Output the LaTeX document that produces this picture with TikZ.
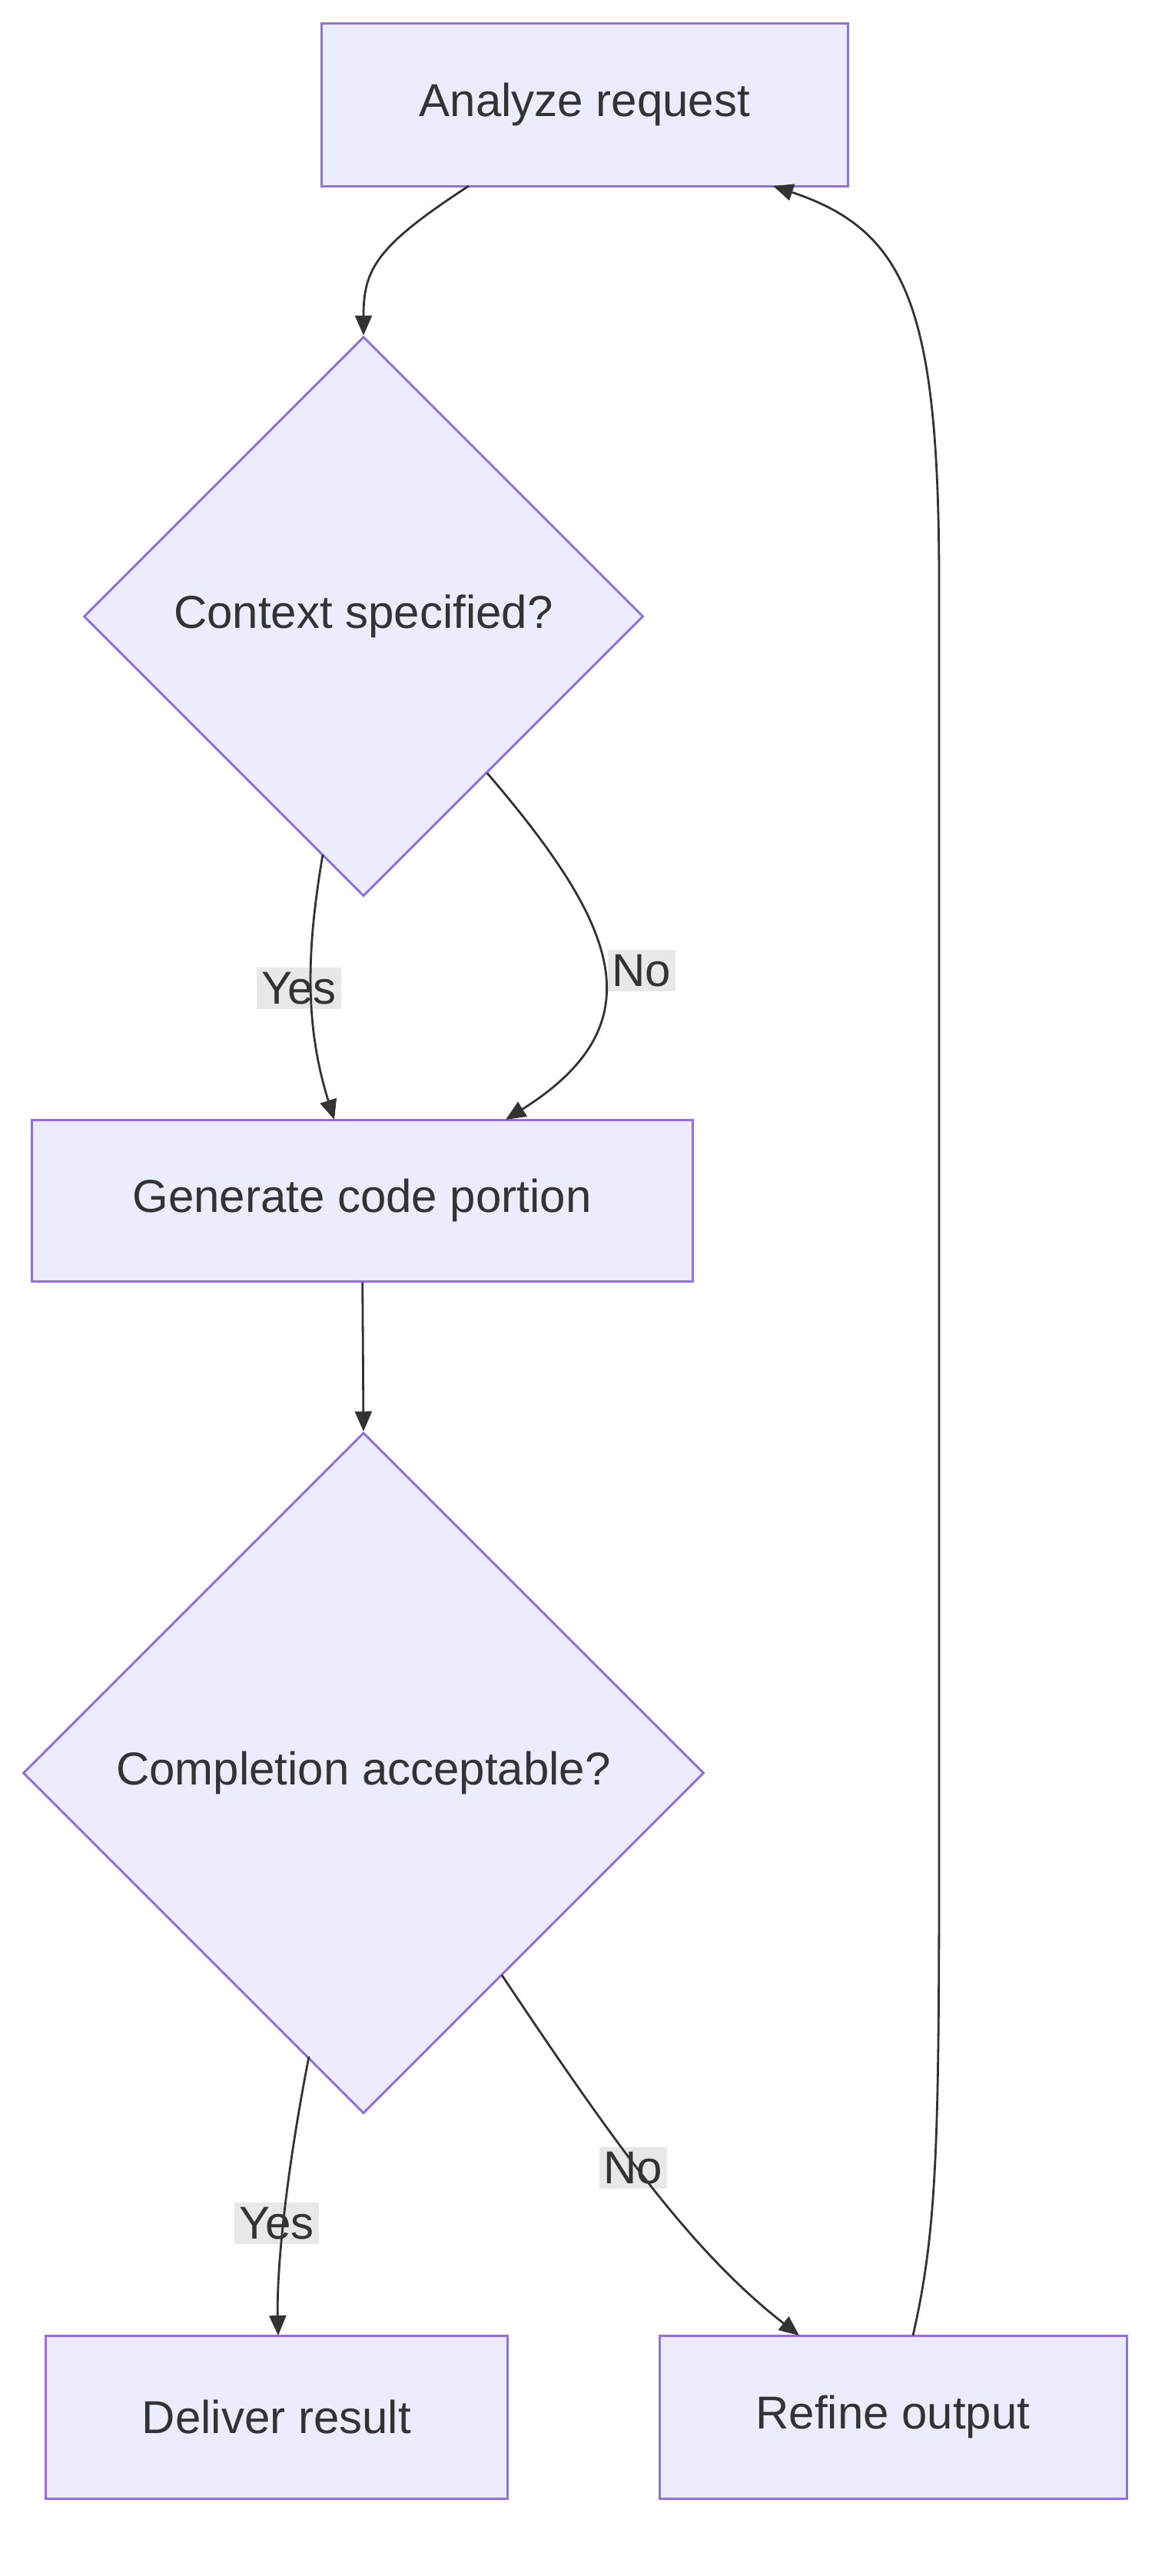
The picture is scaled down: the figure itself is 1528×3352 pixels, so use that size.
\documentclass[tikz,border=0pt]{standalone}
\usepackage{fontspec}
\setmainfont{Liberation Sans}
\usetikzlibrary{shapes.geometric,arrows.meta}
\definecolor{nfill}{HTML}{ECECFF}
\definecolor{nline}{HTML}{9370DB}
\definecolor{ink}{HTML}{333333}
\definecolor{lbg}{HTML}{E8E8E8}
\begin{document}
\begin{tikzpicture}[x=0.5pt,y=-0.5pt,
  box/.style={draw=nline,fill=nfill,line width=1.5pt,text=ink,font=\fontsize{30}{36}\selectfont},
  dia/.style={draw=nline,fill=nfill,line width=1.5pt,text=ink,font=\fontsize{30}{36}\selectfont,diamond,inner sep=0pt},
  lab/.style={fill=lbg,text=ink,font=\fontsize{30}{36}\selectfont,inner sep=3pt},
  edge/.style={draw=ink,line width=1.4pt,-{Triangle[length=13pt,width=11pt]}}]
\useasboundingbox (0,0) rectangle (1528,3352);
\node[box,minimum width=342.5pt,minimum height=106pt] (a) at (761,136) {Analyze request};
\node[dia,minimum width=364pt,minimum height=364pt] (c) at (473,802) {Context specified?};
\node[box,minimum width=430pt,minimum height=105pt] (g) at (471,1562) {Generate code portion};
\node[dia,minimum width=443pt,minimum height=443pt] (d) at (473,2307) {Completion acceptable?};
\node[box,minimum width=300.5pt,minimum height=106pt] (r) at (360,3145) {Deliver result};
\node[box,minimum width=304pt,minimum height=106pt] (f) at (1162,3145) {Refine output};
\node[lab] (y1) at (389,1286) {Yes};
\node[lab] (n1) at (835,1263) {No};
\node[lab] (y2) at (360,2893) {Yes};
\node[lab] (n2) at (824,2821) {No};
\coordinate (a1) at (610,242);
\coordinate (c1) at (420,1112);
\coordinate (c2) at (634,1006);
\coordinate (d1) at (402,2676);
\coordinate (d2) at (653,2570);
\coordinate (f1) at (1188,3039);
\coordinate (a2) at (1006,242);
\draw[edge] (a1) .. controls (490,320) and (473,350) .. (c.north);
\draw[edge] (c1) .. controls (400,1230) and (395,1330) .. (435,1457);
\draw[edge] (c2) .. controls (800,1200) and (860,1330) .. (658,1457);
\draw[edge] (g) -- (d.north);
\draw[edge] (d1) .. controls (370,2840) and (360,2960) .. (362,3039);
\draw[edge] (d2) .. controls (800,2790) and (900,2930) .. (1040,3039);
\draw[edge] (f1) .. controls (1220,2900) and (1222,2780) .. (1222,2400)
  -- (1222,760) .. controls (1222,400) and (1180,300) .. (a2);
\end{tikzpicture}
\end{document}
